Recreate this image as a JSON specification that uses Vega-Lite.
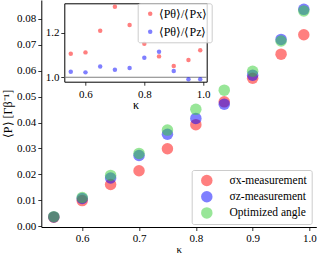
{
  "$schema": "https://vega.github.io/schema/vega-lite/v6.json",
  "width": 275,
  "height": 227,
  "autosize": {"type": "none"},
  "padding": {"left": 41.3, "top": 0, "right": 0.7, "bottom": 28},
  "background": "white",
  "datasets": {
    "main": [
      {"kappa": 0.55, "P": 0.00345, "series": "σx-measurement"},
      {"kappa": 0.6, "P": 0.0099, "series": "σx-measurement"},
      {"kappa": 0.65, "P": 0.0161, "series": "σx-measurement"},
      {"kappa": 0.7, "P": 0.0214, "series": "σx-measurement"},
      {"kappa": 0.75, "P": 0.0299, "series": "σx-measurement"},
      {"kappa": 0.8, "P": 0.0392, "series": "σx-measurement"},
      {"kappa": 0.85, "P": 0.0480, "series": "σx-measurement"},
      {"kappa": 0.9, "P": 0.0571, "series": "σx-measurement"},
      {"kappa": 0.95, "P": 0.0664, "series": "σx-measurement"},
      {"kappa": 0.99, "P": 0.0739, "series": "σx-measurement"},
      {"kappa": 0.55, "P": 0.0036, "series": "σz-measurement"},
      {"kappa": 0.6, "P": 0.0107, "series": "σz-measurement"},
      {"kappa": 0.65, "P": 0.0186, "series": "σz-measurement"},
      {"kappa": 0.7, "P": 0.0273, "series": "σz-measurement"},
      {"kappa": 0.75, "P": 0.0355, "series": "σz-measurement"},
      {"kappa": 0.8, "P": 0.0416, "series": "σz-measurement"},
      {"kappa": 0.85, "P": 0.0471, "series": "σz-measurement"},
      {"kappa": 0.9, "P": 0.0583, "series": "σz-measurement"},
      {"kappa": 0.95, "P": 0.0721, "series": "σz-measurement"},
      {"kappa": 0.99, "P": 0.0837, "series": "σz-measurement"},
      {"kappa": 0.55, "P": 0.0037, "series": "Optimized angle"},
      {"kappa": 0.6, "P": 0.0111, "series": "Optimized angle"},
      {"kappa": 0.65, "P": 0.0196, "series": "Optimized angle"},
      {"kappa": 0.7, "P": 0.0281, "series": "Optimized angle"},
      {"kappa": 0.75, "P": 0.0371, "series": "Optimized angle"},
      {"kappa": 0.8, "P": 0.0451, "series": "Optimized angle"},
      {"kappa": 0.85, "P": 0.0525, "series": "Optimized angle"},
      {"kappa": 0.9, "P": 0.0598, "series": "Optimized angle"},
      {"kappa": 0.95, "P": 0.0715, "series": "Optimized angle"},
      {"kappa": 0.99, "P": 0.0831, "series": "Optimized angle"}
    ],
    "inset": [
      {"kappa": 0.55, "ratio": 1.106, "series": "⟨Pθ⟩/⟨Px⟩"},
      {"kappa": 0.6, "ratio": 1.112, "series": "⟨Pθ⟩/⟨Px⟩"},
      {"kappa": 0.65, "ratio": 1.209, "series": "⟨Pθ⟩/⟨Px⟩"},
      {"kappa": 0.7, "ratio": 1.317, "series": "⟨Pθ⟩/⟨Px⟩"},
      {"kappa": 0.75, "ratio": 1.235, "series": "⟨Pθ⟩/⟨Px⟩"},
      {"kappa": 0.8, "ratio": 1.151, "series": "⟨Pθ⟩/⟨Px⟩"},
      {"kappa": 0.85, "ratio": 1.094, "series": "⟨Pθ⟩/⟨Px⟩"},
      {"kappa": 0.9, "ratio": 1.051, "series": "⟨Pθ⟩/⟨Px⟩"},
      {"kappa": 0.95, "ratio": 1.078, "series": "⟨Pθ⟩/⟨Px⟩"},
      {"kappa": 0.99, "ratio": 1.122, "series": "⟨Pθ⟩/⟨Px⟩"},
      {"kappa": 0.55, "ratio": 1.025, "series": "⟨Pθ⟩/⟨Pz⟩"},
      {"kappa": 0.6, "ratio": 1.022, "series": "⟨Pθ⟩/⟨Pz⟩"},
      {"kappa": 0.65, "ratio": 1.048, "series": "⟨Pθ⟩/⟨Pz⟩"},
      {"kappa": 0.7, "ratio": 1.034, "series": "⟨Pθ⟩/⟨Pz⟩"},
      {"kappa": 0.75, "ratio": 1.042, "series": "⟨Pθ⟩/⟨Pz⟩"},
      {"kappa": 0.8, "ratio": 1.088, "series": "⟨Pθ⟩/⟨Pz⟩"},
      {"kappa": 0.85, "ratio": 1.115, "series": "⟨Pθ⟩/⟨Pz⟩"},
      {"kappa": 0.9, "ratio": 1.028, "series": "⟨Pθ⟩/⟨Pz⟩"},
      {"kappa": 0.95, "ratio": 0.991, "series": "⟨Pθ⟩/⟨Pz⟩"},
      {"kappa": 0.99, "ratio": 0.991, "series": "⟨Pθ⟩/⟨Pz⟩"}
    ],
    "reference": [{"ratio": 1.0}]
  },
  "config": {
    "view": {"stroke": null},
    "font": "Liberation Serif",
    "axis": {
      "grid": false,
      "domainColor": "black",
      "domainWidth": 1,
      "tickColor": "black",
      "tickWidth": 0.8,
      "tickSize": 3.5,
      "labelColor": "black",
      "titleColor": "black",
      "labelFont": "Liberation Serif",
      "titleFont": "Liberation Serif",
      "labelFontSize": 11,
      "titleFontSize": 11,
      "titleFontWeight": "normal",
      "labelPadding": 2,
      "labelFlush": false,
      "labelOverlap": false
    },
    "legend": {
      "labelFont": "Liberation Serif",
      "labelColor": "black",
      "strokeColor": "#cccccc",
      "fillColor": "rgba(255,255,255,0.8)",
      "cornerRadius": 2,
      "symbolType": "circle",
      "symbolOpacity": 0.5,
      "symbolStrokeWidth": 0
    }
  },
  "layer": [
    {
      "data": {"name": "main"},
      "mark": {"type": "point", "filled": true, "opacity": 0.5, "size": 132, "strokeWidth": 0},
      "encoding": {
        "x": {
          "field": "kappa", "type": "quantitative",
          "scale": {"domain": [0.528, 1.012], "nice": false, "zero": false},
          "axis": {"orient": "bottom", "values": [0.6, 0.7, 0.8, 0.9, 1.0], "format": ".1f", "title": "κ", "titlePadding": 0, "titleFontSize": 11}
        },
        "y": {
          "field": "P", "type": "quantitative",
          "scale": {"domain": [-0.0003, 0.0873], "nice": false, "zero": false},
          "axis": {"orient": "left", "values": [0, 0.01, 0.02, 0.03, 0.04, 0.05, 0.06, 0.07, 0.08], "format": ".2f", "title": "⟨P⟩ [Γβ⁻¹]", "titlePadding": 2.5, "titleFontSize": 12}
        },
        "color": {
          "field": "series", "type": "nominal",
          "scale": {"domain": ["σx-measurement", "σz-measurement", "Optimized angle"], "range": ["#ff0000", "#0000ff", "#32cd32"]},
          "legend": {"orient": "none", "legendX": 150.4, "legendY": 170, "title": null, "padding": 4.5, "symbolSize": 132, "symbolOffset": 4.6, "labelOffset": 16.7, "rowPadding": 4.2, "labelFontSize": 11.5}
        }
      }
    },
    {
      "data": {"name": "reference"},
      "mark": {"type": "rule", "color": "#808080", "strokeWidth": 1},
      "encoding": {
        "x": {
          "datum": 0.528, "type": "quantitative",
          "scale": {"domain": [0.528, 1.012], "range": [23, 165.4], "nice": false, "zero": false},
          "axis": {"orient": "top", "offset": -3.3, "ticks": false, "labels": false, "title": null}
        },
        "x2": {"datum": 1.012},
        "y": {
          "field": "ratio", "type": "quantitative",
          "scale": {"domain": [0.98, 1.333], "range": [81.7, 3.3], "nice": false, "zero": false},
          "axis": {"orient": "right", "offset": -109.6, "ticks": false, "labels": false, "title": null}
        }
      }
    },
    {
      "data": {"name": "inset"},
      "mark": {"type": "point", "filled": true, "opacity": 0.5, "size": 20, "strokeWidth": 0},
      "encoding": {
        "x": {
          "field": "kappa", "type": "quantitative",
          "scale": {"domain": [0.528, 1.012], "range": [23, 165.4], "nice": false, "zero": false},
          "axis": {"orient": "bottom", "offset": -145.3, "values": [0.6, 0.8, 1.0], "format": ".1f", "title": "κ", "titlePadding": 0.5, "labelPadding": 3, "titleFontSize": 12}
        },
        "y": {
          "field": "ratio", "type": "quantitative",
          "scale": {"domain": [0.98, 1.333], "range": [81.7, 3.3], "nice": false, "zero": false},
          "axis": {"orient": "left", "offset": -23, "values": [1.0, 1.2], "format": ".1f", "title": null, "labelPadding": 1.8}
        },
        "color": {
          "field": "series", "type": "nominal",
          "scale": {"domain": ["⟨Pθ⟩/⟨Px⟩", "⟨Pθ⟩/⟨Pz⟩"], "range": ["#ff0000", "#0000ff"]},
          "legend": {"orient": "none", "legendX": 96.4, "legendY": 3.3, "title": null, "padding": 4.5, "symbolSize": 20, "symbolOffset": 2, "labelOffset": 2.5, "rowPadding": 6, "labelFontSize": 12}
        }
      }
    }
  ],
  "resolve": {"scale": {"x": "independent", "y": "independent", "color": "independent"}}
}
